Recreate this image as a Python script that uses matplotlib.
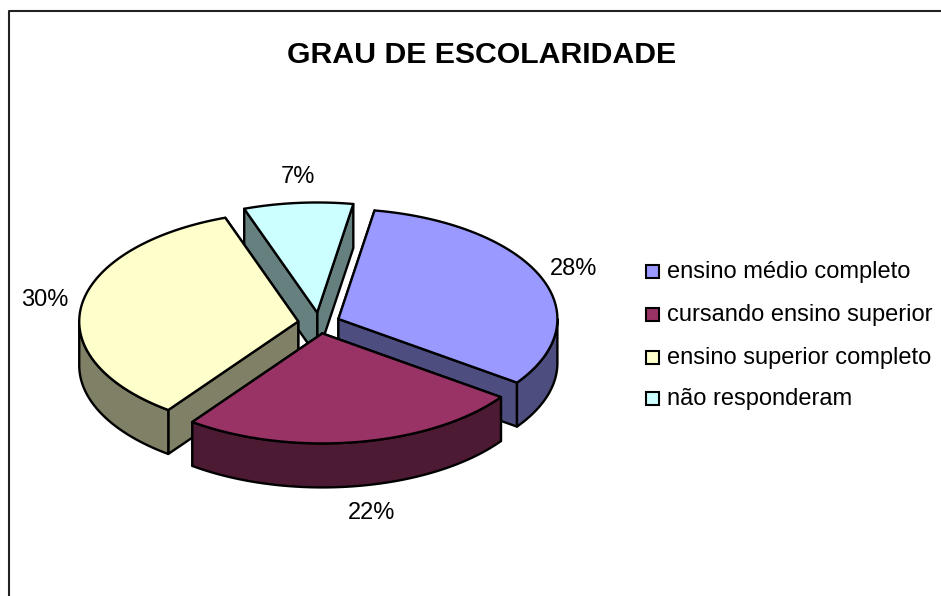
import numpy as np
import matplotlib
matplotlib.use("Agg")
import matplotlib.pyplot as plt
from matplotlib.patches import Polygon, Rectangle

plt.rcParams['font.family'] = ['Liberation Sans', 'DejaVu Sans']

title = 'GRAU DE ESCOLARIDADE'
categories = ['ensino médio completo', 'cursando ensino superior',
              'ensino superior completo', 'não responderam']
values = [28, 22, 30, 7]
top_colors = ['#9999FF', '#993366', '#FFFFCC', '#CCFFFF']
wall_colors = ['#4D4D80', '#4D1A33', '#808066', '#668080']

# pie geometry, in pixels of the picture
cx, cy = 319, 323
rx, ry = 219, 110
depth = 44
explode = 21
start = 9.5
lw = 1.7

fig = plt.figure(figsize=(9.41, 5.96), dpi=100)
ax = fig.add_axes([0, 0, 1, 1])
ax.set_xlim(0, 941)
ax.set_ylim(596, 0)
ax.axis('off')


def point(angle, r=1.0):
    # angle in degrees, clockwise from 12 o'clock
    a = np.radians(angle)
    return np.column_stack([r * rx * np.sin(a), -r * ry * np.cos(a)])


def drop(pts):
    return pts + np.array([0, depth])


def add_poly(pts, color, z):
    ax.add_patch(Polygon(pts, closed=True, facecolor=color, edgecolor='black',
                         linewidth=lw, joinstyle='round', zorder=z))


spans = np.array(values) / sum(values) * 360
starts = start + np.concatenate([[0], np.cumsum(spans)[:-1]])

# back to front: cyan, blue, yellow, red
for z, i in enumerate([3, 0, 2, 1]):
    a0, a1 = starts[i], starts[i] + spans[i]
    mid = (a0 + a1) / 2
    apex = np.array([cx, cy]) + point(mid, explode / rx)[0]
    arc = apex + point(np.linspace(a0, a1, 120))

    # the cut face lower on the screen goes on top of the other one
    for edge in sorted([arc[0], arc[-1]], key=lambda p: p[1]):
        side = np.array([apex, edge])
        add_poly(np.vstack([side, drop(side)[::-1]]), wall_colors[i], z * 10)

    lo, hi = max(a0, 90), min(a1, 270)
    if lo < hi:
        outer = apex + point(np.linspace(lo, hi, 120))
        add_poly(np.vstack([outer, drop(outer)[::-1]]), wall_colors[i], z * 10 + 1)

    add_poly(np.vstack([apex, arc]), top_colors[i], z * 10 + 2)

# chart border, cut off by the right and bottom of the picture
ax.plot([9.5, 9.5, 941], [596, 11, 11], color='#222222', lw=1.5, zorder=50)

ax.text(482, 55, title, fontsize=21.8, fontweight='bold', ha='center', va='center')

pct_x = [574, 372, 45, 298]
pct_y = [269, 513, 300, 177]
for v, x, y in zip(values, pct_x, pct_y):
    ax.text(x, y, f'{v}%', fontsize=17, ha='center', va='center')

legend_y = [272, 315, 358, 399]
for name, color, y in zip(categories, top_colors, legend_y):
    ax.add_patch(Rectangle((646, y - 7.5), 13, 13, facecolor=color, edgecolor='black',
                           linewidth=1.5, zorder=60))
    ax.text(667, y, name, fontsize=17, ha='left', va='center')

fig.savefig('out.png', dpi=100)
